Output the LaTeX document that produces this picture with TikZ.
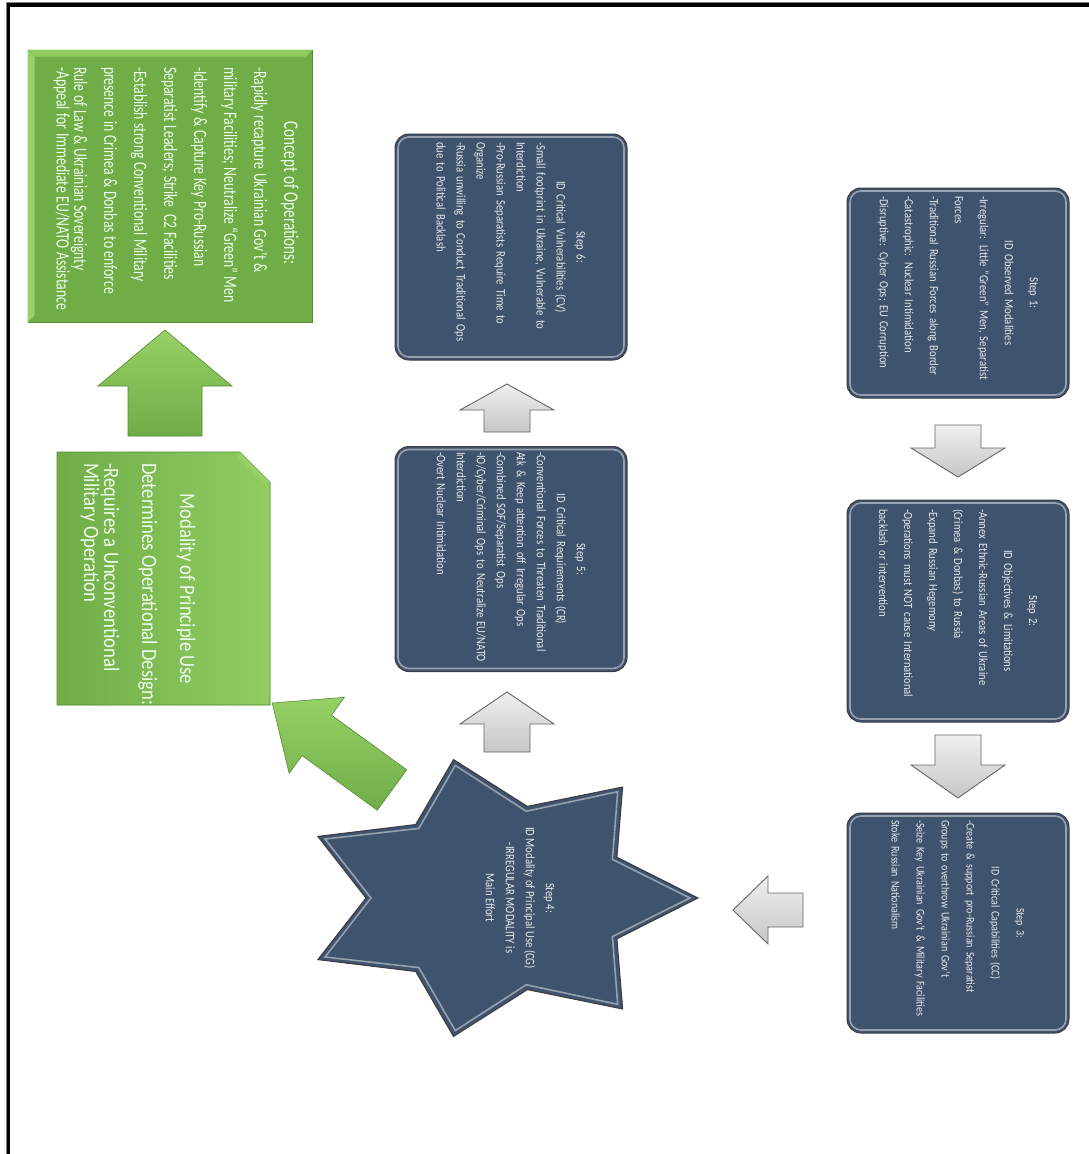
\documentclass[tikz,border=0pt]{standalone}
\usepackage{fontspec}
\setmainfont{Carlito}[FakeStretch=0.8]
\newfontfamily\fA{Carlito}[FakeStretch=0.85]
\newfontfamily\fB{Carlito}[FakeStretch=0.82]
\newfontfamily\fC{Carlito}[FakeStretch=0.72]
\newfontfamily\fD{Carlito}[FakeStretch=0.85]
\usetikzlibrary{calc}
\definecolor{slate}{RGB}{64,83,110}
\definecolor{slateedge}{RGB}{60,60,66}
\definecolor{bevel}{RGB}{150,160,175}
\definecolor{txtc}{RGB}{228,231,236}
\definecolor{greenA}{RGB}{112,173,71}
\definecolor{greenB}{RGB}{150,208,102}
\definecolor{greenD}{RGB}{84,140,50}
\hyphenpenalty=10000
\exhyphenpenalty=10000
\newcommand\tightsp{\spaceskip=0.19em plus 0.05em minus 0.02em\relax}
\begin{document}
\begin{tikzpicture}[x=1pt,y=-1pt,
  stepbox/.style={draw=slateedge, line width=1pt, fill=slate, rounded corners=14pt, inner sep=0pt},
  bevelline/.style={draw=bevel, line width=1.6pt, rounded corners=11pt},
  steptxt/.style={rotate=-90, text=txtc, inner sep=0pt},
  small/.style={font=\fA\fontsize{12.5}{25}\selectfont\tightsp},
  mid/.style={font=\fB\fontsize{13}{20}\selectfont\tightsp},
  grayarrow/.style={draw=black!60, line width=0.9pt, top color=gray!12, bottom color=gray!45},
  greenarrow/.style={draw=greenD, line width=0.6pt, top color=greenB, bottom color=greenA},
  greenbox/.style={fill=greenA, draw=greenD, line width=0.6pt},
  greentxt/.style={rotate=-90, text=white!92!green, inner sep=0pt}
]
\useasboundingbox (0,0) rectangle (1089,1154);
\clip (0,0) rectangle (1089,1154);
\fill[white] (0,0) rectangle (1089,1154);
% frame
\draw[line width=4pt] (8,1170) -- (8,5) -- (1100,5);
\draw[gray, line width=0.8pt] (6,1170) -- (6,2.5) -- (1100,2.5);

% ---- Step boxes
\node[stepbox, minimum width=222pt, minimum height=210pt] (s1) at (958,293) {};
\node[stepbox, minimum width=222pt, minimum height=222pt] (s2) at (958,611) {};
\node[stepbox, minimum width=222pt, minimum height=220pt] (s3) at (958,923) {};
\node[stepbox, minimum width=232pt, minimum height=225pt] (s5) at (511,559) {};
\node[stepbox, minimum width=232pt, minimum height=226pt] (s6) at (511,247) {};
\foreach \b in {s1,s2,s3,s5,s6}{
  \draw[bevelline] ([shift={(3.5,3.5)}]\b.north west) rectangle ([shift={(-3.5,-3.5)}]\b.south east);
}

\node[steptxt, small, text width=194pt] (s1t) at (s1.center) {\centering Step 1:\\ID Observed Modalities\par\raggedright
-Irregular: Little “Green” Men, Separatist\\Forces\\-Traditional Russian Forces along Border\\-Catastrophic: Nuclear Intimidation\\-Disruptive: Cyber Ops; EU Corruption};

\node[steptxt, small, text width=204pt] (s2t) at (s2.center) {\centering Step 2:\\ID Objectives \& Limitations\par\raggedright
-Annex Ethnic-Russian Areas of Ukraine\\(Crimea \& Donbas) to Russia\\-Expand Russian Hegemony\\-Operations must NOT cause International\\backlash or intervention};

\node[steptxt, font=\fA\fontsize{11.8}{25}\selectfont\tightsp, text width=206pt] (s3t) at (s3.center) {\centering Step 3:\\ID Critical Capabilities (CC)\par\raggedright
-Create \& support pro-Russian Separatist\\Groups to overthrow Ukrainian Gov’t\\-Seize Key Ukrainian Gov’t \& Military Facilities\\Stoke Russian Nationalism};

\node[steptxt, mid, text width=214pt] (s5t) at (s5.center) {\centering Step 5:\\ID Critical Requirements (CR)\par\raggedright
-Conventional Forces to Threaten Traditional\\Atk \& Keep attention off Irregular Ops\\-Combined SOF/Separatist Ops\\-IO/Cyber/Criminal Ops to Neutralize EU/NATO\\Interdiction\\-Overt Nuclear Intimidation};

\node[steptxt, mid, text width=210pt] (s6t) at (s6.center) {\centering Step 6:\\ID Critical Vulnerabilities (CV)\par\raggedright
-Small footprint in Ukraine, Vulnerable to\\Interdiction\\-Pro-Russian Separatists Require Time to\\Organize\\-Russia unwilling to Conduct Traditional Ops\\due to Political Backlash};

% ---- Step 4 star
\coordinate (s4) at (498,898);
\begin{scope}[shift={(s4)}]
\draw[fill=slate, draw=slateedge, line width=1pt, line join=miter]
  (0:200pt and 142pt)
  \foreach \k in {1,...,6}{ -- ({\k*360/7-180/7}:132pt and 94pt) -- ({\k*360/7}:200pt and 142pt) }
  -- ({-180/7}:132pt and 94pt) -- cycle;
\draw[draw=bevel, line width=1.6pt, line join=miter]
  (0:192pt and 136pt)
  \foreach \k in {1,...,6}{ -- ({\k*360/7-180/7}:127pt and 89pt) -- ({\k*360/7}:192pt and 136pt) }
  -- ({-180/7}:127pt and 89pt) -- cycle;
\end{scope}
\node[steptxt, mid, align=center] (s4t) at (520,898) {Step 4:\\ID Modality of Principal Use (CG)\\-IRREGULAR MODALITY is\\Main Effort};

% ---- gray arrows
\draw[grayarrow] (935,425) -- (981,425) -- (981,448) -- (1005,448) -- (958,477) -- (911,448) -- (935,448) -- cycle;
\draw[grayarrow] (935,735) -- (981,735) -- (981,765) -- (1005,765) -- (958,798) -- (911,765) -- (935,765) -- cycle;
\draw[grayarrow] (803,893) -- (803,927) -- (768,927) -- (768,944) -- (733,910) -- (768,876) -- (768,893) -- cycle;
\draw[grayarrow] (484,752) -- (484,724) -- (460,724) -- (507,692) -- (554,724) -- (530,724) -- (530,752) -- cycle;
\draw[grayarrow] (484,432) -- (484,410) -- (460,410) -- (507,384) -- (554,410) -- (530,410) -- (530,432) -- cycle;

% ---- green boxes
\node[greenbox, minimum width=284pt, minimum height=272pt, inner sep=0pt] (cop) at (170,186) {};
\fill[greenB] (cop.north west) -- ([shift={(7,7)}]cop.north west) -- ([shift={(7,-7)}]cop.south west) -- (cop.south west) -- cycle;
\fill[greenB!85!greenA] (cop.north west) -- ([shift={(7,7)}]cop.north west) -- ([shift={(-7,7)}]cop.north east) -- (cop.north east) -- cycle;
\node[greentxt, text width=252pt] (copt) at (176,193) {\fC\fontsize{21}{30}\selectfont\tightsp\centering Concept of Operations:\par\fontsize{19}{30}\selectfont\tightsp\raggedright
-Rapidly recapture Ukrainian Gov’t \&\\military Facilities; Neutralize “Green” Men\\-Identify \& Capture Key Pro-Russian\\Separatist Leaders; Strike~ C2 Facilities\\-Establish strong Conventional Military\\presence in Crimea \& Donbas to enforce\\Rule of Law \& Ukrainian Sovereignty\\-Appeal for Immediate EU/NATO Assistance};

\draw[greenbox, left color=greenA, right color=greenB!90!greenA] (57,452) -- (240,452) -- (270,482) -- (270,705) -- (57,705) -- cycle;
\fill[greenB] (240,452) -- (270,482) -- (265,484) -- (238,457) -- cycle;
\coordinate (mod) at (163,578);
\node[greentxt, text width=252pt] (modt) at (138,589) {\fD\fontsize{22}{38}\selectfont\tightsp\centering Modality of Principle Use\par\raggedright
Determines Operational Design:\\-Requires a Unconventional\\Military Operation};

% ---- green arrows
\draw[greenarrow] (128,436) -- (128,386) -- (98,386) -- (165,330) -- (232,386) -- (202,386) -- (202,436) -- cycle;
\begin{scope}[shift={(392,790)}, rotate=144]
\draw[greenarrow] (0,-25) -- (93,-25) -- (93,-47) -- (148,0) -- (93,47) -- (93,25) -- (0,25) -- cycle;
\end{scope}
\end{tikzpicture}
\end{document}
